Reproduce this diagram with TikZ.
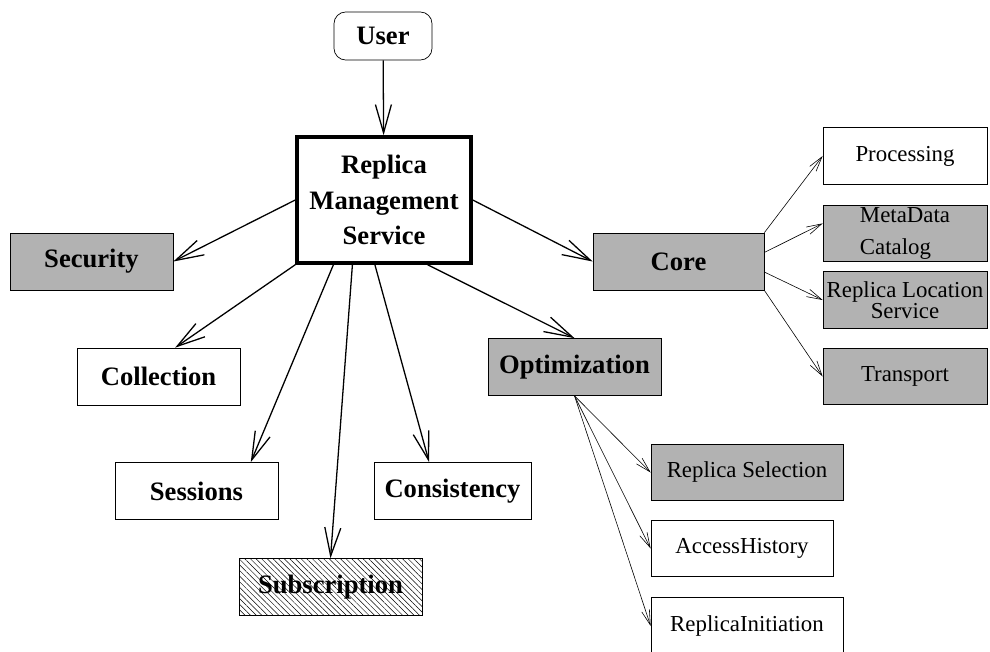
\documentclass[tikz,border=0pt]{standalone}
\usepackage{fontspec}
\setmainfont{Liberation Serif}
\usetikzlibrary{arrows.meta, patterns.meta}

\begin{document}
\begin{tikzpicture}[x = 0.03cm, y = -0.03cm,
		box/.style = {draw, rectangle, inner sep = 0pt, line width = 0.6pt, minimum height = 1.71cm, font = \fontsize{22.7}{28}\selectfont\bfseries},
		sub/.style = {draw, rectangle, inner sep = 0pt, line width = 0.6pt, minimum width = 4.92cm, minimum height = 1.7cm, font = \fontsize{19.5}{26.5}\selectfont},
		grey/.style = {fill = gray!60},
		hatched/.style = {pattern = {Lines[angle = -45, distance = 3.4pt, line width = 0.4pt]}},
		big/.style = {line width = 1.1pt, -{Straight Barb[length = 8.5mm, width = 4.8mm]}},
		small/.style = {line width = 0.5pt, -{Straight Barb[length = 4.5mm, width = 2.4mm]}}]
		\useasboundingbox (0, 0) rectangle (990, 652);
		%%%%%%%%%%%%%
		\node [box, rounded corners = 0.35cm, minimum width = 2.94cm, minimum height = 1.44cm] (user) at (383, 36) {User};
		\node [box, line width = 3pt, minimum width = 5.22cm, minimum height = 3.78cm, align = center, font = \fontsize{22.7}{30}\selectfont\bfseries] (rms) at (384, 200) {Replica\\Management\\Service};
		%%%%%%%%%%%%%
		\node [box, grey, minimum width = 4.89cm] (sec) at (91.5, 261.5) {Security};
		\node [box, minimum width = 4.89cm] (coll) at (158.5, 376.5) {Collection};
		\node [box, minimum width = 4.89cm] (sess) at (196.5, 491) {Sessions};
		\node [box, minimum width = 4.71cm] (cons) at (452.5, 491) {Consistency};
		\node [box, hatched, minimum width = 5.49cm] (subs) at (330.5, 587) {Subscription};
		\node [box, grey, minimum width = 5.19cm] (opt) at (574.5, 367) {Optimization};
		\node [box, grey, minimum width = 5.13cm] (core) at (678.5, 261.5) {Core};
		%%%%%%%%%%%%%
		\node [sub] (proc) at (905, 156) {Processing};
		\node [sub, grey, align = left] (meta) at (905, 233.5) {MetaData\\Catalog};
		\node [sub, grey, align = center, font = \fontsize{19.5}{17}\selectfont] (rls) at (905, 300) {Replica Location\\Service};
		\node [sub, grey] (trans) at (905, 376.5) {Transport};
		\node [sub, grey, minimum width = 5.76cm] (rsel) at (747, 472.5) {Replica Selection};
		\node [sub, minimum width = 5.46cm] (hist) at (742, 548.5) {AccessHistory};
		\node [sub, minimum width = 5.76cm] (init) at (747, 626) {ReplicaInitiation};
		%%%%%%%%%%%%%
		\draw [big] (user) to (rms);
		\draw [big] (rms.west) to (sec.east);
		\draw [big] (rms.south west) to (coll.60);
		\draw [big] (rms.232) to (sess.28);
		\draw [big] (rms.244) to (subs.north);
		\draw [big] (rms.262) to (cons.129);
		\draw [big] (rms.304) to (opt.north);
		\draw [big] (rms.east) to (core.west);
		%%%%%%%%%%%%%
		\draw [small] (core.north east) to (proc.west);
		\draw [small] (core.6) to (meta.173);
		\draw [small] (core.-7) to (rls.west);
		\draw [small] (core.south east) to (trans.west);
		\draw [small] (opt.south) to (rsel.west);
		\draw [small] (opt.south) to (hist.west);
		\draw [small] (opt.south) to (init.west);
\end{tikzpicture}
\end{document}
